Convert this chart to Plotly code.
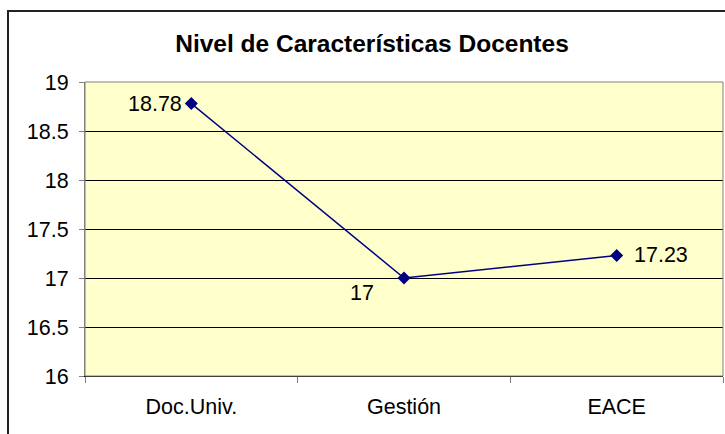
import plotly.graph_objects as go

categories = ["Doc.Univ.", "Gestión", "EACE"]
values = [18.78, 17, 17.23]
value_labels = ["18.78", "17", "17.23"]
y_ticks = [16, 16.5, 17, 17.5, 18, 18.5, 19]
title_text = "Nivel de Características Docentes"

W, H = 725, 434
L, R, T, B = 85, 2, 82, 58
pw, ph = W - L - R, H - T - B

def px_x(p):
    return (p - L) / pw

def px_y(p):
    return (H - B - p) / ph

FONT = "Liberation Sans, Arial"
TICK_SIZE = 21.5

fig = go.Figure()
fig.add_trace(go.Scatter(
    x=categories, y=values,
    mode="lines+markers",
    line=dict(color="#000080", width=1.5),
    marker=dict(symbol="diamond", size=10, color="#000080"),
    cliponaxis=False,
    showlegend=False,
))

# label offsets (style only)
label_style = [
    dict(xanchor="right", xshift=-7, yshift=0),
    dict(xanchor="right", xshift=-28, yshift=-15),
    dict(xanchor="left", xshift=15, yshift=0),
]
for cat, val, txt, st in zip(categories, values, value_labels, label_style):
    fig.add_annotation(
        x=cat, y=val, text=txt, showarrow=False,
        xanchor=st["xanchor"], yanchor="middle",
        xshift=st["xshift"], yshift=st["yshift"],
        font=dict(family=FONT, size=TICK_SIZE, color="#000000"),
    )

fig.update_layout(
    width=W, height=H,
    margin=dict(l=L, r=R, t=T, b=B, pad=0),
    paper_bgcolor="#FFFFFF",
    plot_bgcolor="#FFFFCC",
    font=dict(family=FONT, size=TICK_SIZE, color="#000000"),
    title=dict(text="<b>" + title_text + "</b>", x=px_x(372), xref="paper", xanchor="center",
               y=1 - 43 / H, yanchor="middle", yref="container",
               font=dict(size=24.5, color="#000000")),
    xaxis=dict(
        type="category", range=[-0.5, 2.5],
        tickson="boundaries", ticks="outside", ticklen=6, tickcolor="#808080",
        showline=True, linecolor="#000000", linewidth=1,
        showgrid=False, zeroline=False,
        tickfont=dict(size=TICK_SIZE),
        ticklabelstandoff=11,
    ),
    yaxis=dict(
        range=[16, 19], tickvals=y_ticks, ticktext=[f"{v:g}" for v in y_ticks],
        ticks="outside", ticklen=5, tickcolor="#808080",
        showline=True, linecolor="#808080", linewidth=1,
        showgrid=True, gridcolor="#000000", gridwidth=1,
        zeroline=False,
        tickfont=dict(size=TICK_SIZE),
        ticklabelstandoff=6,
    ),
    shapes=[
        dict(type="rect", xref="paper", yref="paper", x0=0, x1=1, y0=0, y1=1,
             line=dict(color="#808080", width=1), fillcolor="rgba(0,0,0,0)", layer="above"),
        dict(type="rect", xref="paper", yref="paper",
             x0=px_x(8), x1=px_x(760), y0=px_y(460), y1=px_y(11),
             line=dict(color="#222222", width=2), fillcolor="rgba(0,0,0,0)", layer="above"),
    ],
)

fig.write_html("out.html", config={"displayModeBar": False},
               post_script="document.body.style.margin='0';document.body.style.overflow='hidden';")
